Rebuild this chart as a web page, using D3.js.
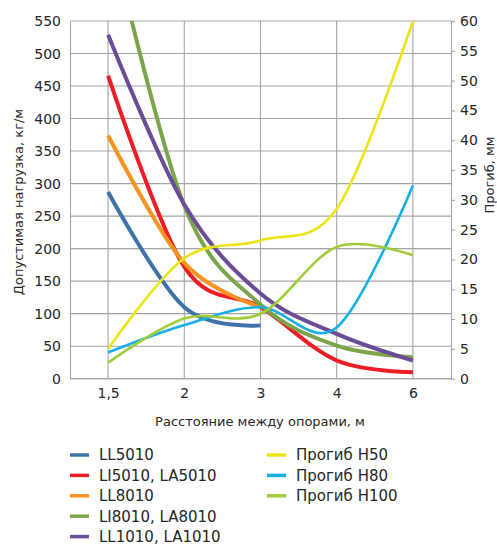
<!DOCTYPE html>
<html>
<head>
<meta charset="utf-8">
<script src="https://cdn.jsdelivr.net/npm/d3@7"></script>
<style>
  body { margin: 0; background: #fff; }
  svg text { font-family: "DejaVu Sans", Verdana, sans-serif; fill: #262626; }
</style>
</head>
<body>
<div id="chart"></div>
<script>
// spans between supports, m
var categories = ["1,5", "2", "3", "4", "6"];

// allowed load, kg/m (left axis)
var ll5010   = [287, 110, 82, null, null];
var li5010   = [466, 172, 110, 28, 10];
var ll8010   = [374, 178, 110, null, null];
var li8010   = [700, 266, 114, 51, 33];
var ll1010   = [529, 268, 131, 69, 28];

// deflection, mm (right axis)
var progibH50  = [5.0, 20.2, 23.2, 28.5, 60];
var progibH80  = [4.4, 9.0, 12.0, 8.6, 32.4];
var progibH100 = [2.7, 10.1, 10.9, 22.1, 20.7];

var loadTicks = d3.range(0, 551, 50);
var defTicks  = d3.range(0, 61, 5);

var series = [
	{ name: "LL5010",         values: ll5010,     axis: "load", color: "#3f72a8" },
	{ name: "LI5010, LA5010", values: li5010,     axis: "load", color: "#ee1d25" },
	{ name: "LL8010",         values: ll8010,     axis: "load", color: "#f7931e" },
	{ name: "LI8010, LA8010", values: li8010,     axis: "load", color: "#7ca54b" },
	{ name: "LL1010, LA1010", values: ll1010,     axis: "load", color: "#6a4d96" },
	{ name: "Прогиб H50",     values: progibH50,  axis: "def",  color: "#ece516" },
	{ name: "Прогиб H80",     values: progibH80,  axis: "def",  color: "#15afe6" },
	{ name: "Прогиб H100",    values: progibH100, axis: "def",  color: "#a0cc3a" }
];

var width = 497, height = 547;
var plot = { left: 70, right: 451, top: 21, bottom: 378.7 };

var svg = d3.select("#chart").append("svg")
	.attr("width", width)
	.attr("height", height);

var x = d3.scalePoint().domain(categories).range([plot.left, plot.right]).padding(0.5);
var yLoad = d3.scaleLinear().domain([0, 550]).range([plot.bottom, plot.top]);
var yDef  = d3.scaleLinear().domain([0, 60]).range([plot.bottom, plot.top]);

// grid
var grid = svg.append("g").attr("stroke", "#a3a3a3").attr("stroke-width", 1.1);
grid.selectAll("line.h").data(loadTicks).enter().append("line")
	.attr("x1", plot.left).attr("x2", plot.right)
	.attr("y1", function(d) { return yLoad(d); })
	.attr("y2", function(d) { return yLoad(d); });
grid.selectAll("line.v").data(categories).enter().append("line")
	.attr("x1", function(d) { return x(d); })
	.attr("x2", function(d) { return x(d); })
	.attr("y1", plot.top).attr("y2", plot.bottom);

// axes
var axisLeft = svg.append("g")
	.attr("transform", "translate(" + plot.left + ",0)")
	.call(d3.axisLeft(yLoad).tickValues(loadTicks).tickSize(0).tickPadding(9));
var axisRight = svg.append("g")
	.attr("transform", "translate(" + plot.right + ",0)")
	.call(d3.axisRight(yDef).tickValues(defTicks).tickSizeInner(4).tickSizeOuter(0).tickPadding(5));
var axisBottom = svg.append("g")
	.attr("transform", "translate(0," + plot.bottom + ")")
	.call(d3.axisBottom(x).tickSize(0).tickPadding(9.5));
axisBottom.select(".domain").attr("d", "M" + plot.left + ",0H" + plot.right);

[axisLeft, axisRight, axisBottom].forEach(function(a) {
	a.selectAll(".domain, line").attr("stroke", "#a3a3a3").attr("stroke-width", 1.1);
	a.selectAll("text").attr("font-size", 14).style("fill", "#262626");
	a.attr("font-family", null);
});

// lines
svg.append("clipPath").attr("id", "plotClip").append("rect")
	.attr("x", plot.left - 5).attr("y", plot.top)
	.attr("width", plot.right - plot.left + 10).attr("height", plot.bottom - plot.top + 5);

var lines = svg.append("g").attr("clip-path", "url(#plotClip)");
series.forEach(function(s) {
	var y = s.axis === "load" ? yLoad : yDef;
	var line = d3.line()
		.defined(function(d) { return d != null; })
		.x(function(d, i) { return x(categories[i]); })
		.y(function(d) { return y(d); })
		.curve(d3.curveCardinal.tension(0));
	lines.append("path")
		.attr("d", line(s.values))
		.attr("fill", "none")
		.attr("stroke", s.color)
		.attr("stroke-width", s.axis === "load" ? 4 : 2.6)
		.attr("stroke-linejoin", "round");
});

// axis titles
svg.append("text")
	.attr("transform", "translate(23,202) rotate(-90)")
	.attr("text-anchor", "middle")
	.attr("font-size", 13)
	.text("Допустимая нагрузка, кг/м");
svg.append("text")
	.attr("transform", "translate(494,175) rotate(-90)")
	.attr("text-anchor", "middle")
	.attr("font-size", 13)
	.text("Прогиб, мм");
svg.append("text")
	.attr("x", 260).attr("y", 426)
	.attr("text-anchor", "middle")
	.attr("font-size", 13)
	.text("Расстояние между опорами, м");

// legend
var legend = svg.append("g");
series.forEach(function(s, i) {
	var col = s.axis === "load" ? 0 : 1;
	var row = col === 0 ? i : i - 5;
	var lx = col === 0 ? 70 : 267;
	var ly = 455 + row * 20.4;
	legend.append("line")
		.attr("x1", lx).attr("x2", lx + 19)
		.attr("y1", ly).attr("y2", ly)
		.attr("stroke", s.color).attr("stroke-width", 3.5);
	legend.append("text")
		.attr("x", lx + 29).attr("y", ly)
		.attr("dy", "0.36em")
		.attr("font-size", 15)
		.text(s.name);
});
</script>
</body>
</html>
